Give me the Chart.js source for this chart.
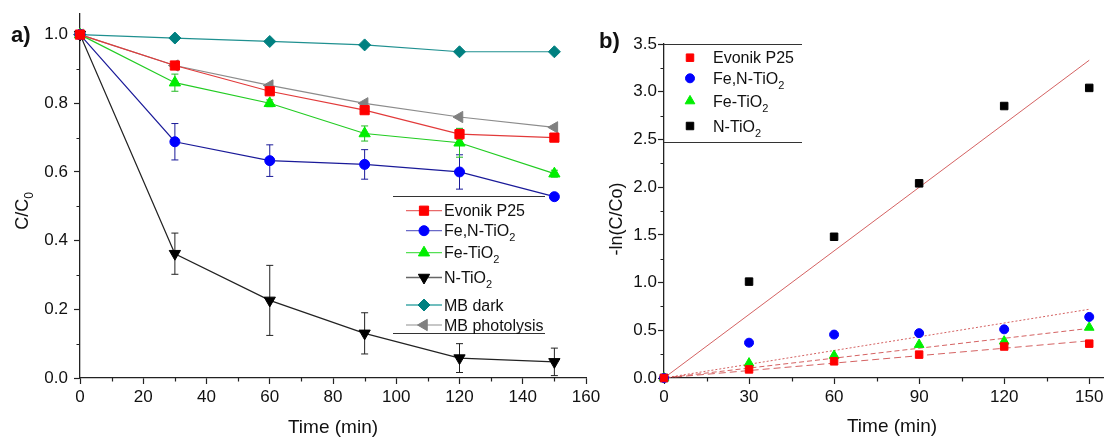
<!DOCTYPE html>
<html><head><meta charset="utf-8">
<script src="https://cdn.jsdelivr.net/npm/chart.js@4"></script>
<style>
html,body{margin:0;padding:0;background:#fff;width:1110px;height:437px;overflow:hidden;}
#ca{position:absolute;left:0;top:0;}
#cb{position:absolute;left:590px;top:0;}
</style></head><body>
<canvas id="ca" width="600" height="437"></canvas>
<canvas id="cb" width="520" height="437"></canvas>
<script>
// ---------- Panel a data ----------
const timeA = [0, 30, 60, 90, 120, 150];
const evonikA = [1.0, 0.91, 0.835, 0.78, 0.71, 0.70];
const feNA = [1.0, 0.688, 0.633, 0.622, 0.60, 0.528];
const feA = [1.0, 0.86, 0.80, 0.712, 0.685, 0.595];
const nA = [1.0, 0.362, 0.226, 0.13, 0.058, 0.047];
const mbDarkA = [1.0, 0.99, 0.98, 0.97, 0.95, 0.95];
const mbPhotoA = [1.0, 0.91, 0.852, 0.80, 0.76, 0.73];
const errEvonikA = [0, 0.005, 0.006, 0.008, 0.015, 0.006];
const errFeNA = [0, 0.053, 0.046, 0.043, 0.05, 0.008];
const errFeA = [0, 0.025, 0.01, 0.022, 0.042, 0.01];
const errNA = [0, 0.06, 0.102, 0.06, 0.042, 0.04];
const labelsA = ['Evonik P25', 'Fe,N-TiO_2', 'Fe-TiO_2', 'N-TiO_2', 'MB dark', 'MB photolysis'];
const xTicksA = [0, 20, 40, 60, 80, 100, 120, 140, 160];
const xMinorA = [10, 30, 50, 70, 90, 110, 130, 150];
const yTicksA = [0, 0.2, 0.4, 0.6, 0.8, 1.0];
const yMinorA = [0.1, 0.3, 0.5, 0.7, 0.9];

// ---------- Panel b data ----------
const timeB = [0, 30, 60, 90, 120, 150];
const evonikB = [0, 0.09, 0.175, 0.245, 0.33, 0.36];
const feNB = [0, 0.37, 0.455, 0.47, 0.51, 0.64];
const feB = [0, 0.155, 0.235, 0.35, 0.385, 0.53];
const nB = [0, 1.01, 1.48, 2.04, 2.85, 3.04];
const fitX = [0, 150];
const fitEvonikB = [0, 0.39];
const fitFeNB = [0, 0.72];
const fitFeB = [0, 0.52];
const fitNB = [0, 3.33];
const labelsB = ['Evonik P25', 'Fe,N-TiO_2', 'Fe-TiO_2', 'N-TiO_2'];
const xTicksB = [0, 30, 60, 90, 120, 150];
const xMinorB = [15, 45, 75, 105, 135];
const yTicksB = [0, 0.5, 1.0, 1.5, 2.0, 2.5, 3.0, 3.5];
const yMinorB = [0.25, 0.75, 1.25, 1.75, 2.25, 2.75, 3.25];

const FONT = "'Liberation Sans', Arial, sans-serif";
function pts(xs, ys) { return xs.map((x, i) => ({x: x, y: ys[i]})); }

function richParts(text) {
  const parts = [];
  for (let i = 0; i < text.length; i++) {
    if (text[i] === '_') { parts.push({t: text[i + 1], sub: true}); i++; }
    else if (parts.length && !parts[parts.length - 1].sub) parts[parts.length - 1].t += text[i];
    else parts.push({t: text[i], sub: false});
  }
  return parts;
}
function drawRich(ctx, text, x, y, size, align, weight) {
  const parts = richParts(text);
  const sub = Math.round(size * 0.68);
  const w8 = weight ? weight + ' ' : '';
  let w = 0;
  parts.forEach(p => { ctx.font = w8 + (p.sub ? sub : size) + 'px ' + FONT; p.w = ctx.measureText(p.t).width; w += p.w; });
  let cx = align === 'center' ? x - w / 2 : (align === 'right' ? x - w : x);
  ctx.textAlign = 'left'; ctx.textBaseline = 'alphabetic';
  parts.forEach(p => {
    ctx.font = w8 + (p.sub ? sub : size) + 'px ' + FONT;
    ctx.fillText(p.t, cx, p.sub ? y + size * 0.3 : y);
    cx += p.w;
  });
}
function marker(ctx, style, rot, r, x, y, color) {
  ctx.save();
  ctx.fillStyle = color; ctx.strokeStyle = color; ctx.lineWidth = 1;
  Chart.helpers.drawPoint(ctx, {pointStyle: style, rotation: rot, radius: r, borderWidth: 1}, x, y);
  ctx.restore();
}

function scaleCfg(axis, ticksArr, min, max, size, fmt, pad) {
  return {
    type: 'linear', min: min, max: max,
    afterBuildTicks: s => { s.ticks = ticksArr.map(v => ({value: v})); },
    afterFit: s => {
      if (axis === 'x') { s.height = size; s.paddingLeft = 0; s.paddingRight = 0; }
      else { s.width = size; s.paddingTop = 0; s.paddingBottom = 0; }
    },
    grid: {display: true, drawOnChartArea: false, drawTicks: true, tickLength: 6, tickColor: '#222', tickWidth: 1.2},
    border: {display: true, color: '#222', width: 1.3},
    ticks: {padding: pad, color: '#111', font: {family: FONT, size: 17}, callback: fmt, maxRotation: 0, autoSkip: false}
  };
}

const minorPlugin = {
  id: 'minorTicks',
  afterDraw(chart, args, opts) {
    const ctx = chart.ctx, xs = chart.scales.x, ys = chart.scales.y;
    ctx.save(); ctx.strokeStyle = '#222'; ctx.lineWidth = 1.2;
    ctx.beginPath();
    opts.x.forEach(v => { const p = Math.round(xs.getPixelForValue(v)) + 0.5; ctx.moveTo(p, xs.top); ctx.lineTo(p, xs.top + 3.5); });
    opts.y.forEach(v => { const p = Math.round(ys.getPixelForValue(v)) + 0.5; ctx.moveTo(ys.right, p); ctx.lineTo(ys.right - 3.5, p); });
    ctx.stroke(); ctx.restore();
  }
};

const errPlugin = {
  id: 'errBars',
  beforeDatasetsDraw(chart) {
    const ctx = chart.ctx, xs = chart.scales.x, ys = chart.scales.y;
    ctx.save(); ctx.lineWidth = 1;
    chart.data.datasets.forEach(ds => {
      if (!ds.errors) return;
      ctx.strokeStyle = ds.errColor;
      ds.data.forEach((p, i) => {
        const e = ds.errors[i]; if (!e) return;
        const x = xs.getPixelForValue(p.x);
        const y1 = ys.getPixelForValue(p.y + e), y2 = ys.getPixelForValue(p.y - e);
        ctx.beginPath();
        ctx.moveTo(x, y1); ctx.lineTo(x, y2);
        ctx.moveTo(x - 3.5, y1); ctx.lineTo(x + 3.5, y1);
        ctx.moveTo(x - 3.5, y2); ctx.lineTo(x + 3.5, y2);
        ctx.stroke();
      });
    });
    ctx.restore();
  }
};

const decorPlugin = {
  id: 'decor',
  afterDraw(chart, args, o) {
    const ctx = chart.ctx;
    ctx.save();
    ctx.fillStyle = '#111';
    drawRich(ctx, o.panel, o.panelX, o.panelY, 22, 'left', 'bold');
    drawRich(ctx, 'Time (min)', o.xTitleX, o.xTitleY, 19, 'center');
    ctx.save(); ctx.translate(o.yTitleX, o.yTitleY); ctx.rotate(-Math.PI / 2);
    drawRich(ctx, o.yTitle, 0, 0, 18, 'center'); ctx.restore();
    ctx.strokeStyle = '#333'; ctx.lineWidth = 1;
    ctx.beginPath();
    o.frame.forEach(f => { ctx.moveTo(f[0], f[2] + 0.5); ctx.lineTo(f[1], f[2] + 0.5); });
    ctx.stroke();
    const dss = chart.data.datasets;
    o.items.forEach((y, i) => {
      const ds = dss[i];
      if (o.lineX) {
        ctx.strokeStyle = ds.legendLine; ctx.lineWidth = 1.3;
        ctx.beginPath(); ctx.moveTo(o.lineX[0], y); ctx.lineTo(o.lineX[1], y); ctx.stroke();
      }
      marker(ctx, ds.pointStyle, ds.pointRotation || 0, ds.pointRadius, o.markerX, y, ds.pointBackgroundColor);
      ctx.fillStyle = '#111';
      drawRich(ctx, o.labels[i], o.textX, y + 16 * 0.36, 16, 'left');
    });
    ctx.restore();
  }
};

function lineDs(label, ys, errs, style, rot, r, mcolor, lcolor, legendLine, ecolor) {
  return {
    label: label, data: pts(timeA, ys), showLine: true, borderColor: lcolor, borderWidth: 1.2,
    pointStyle: style, pointRotation: rot, pointRadius: r, pointBackgroundColor: mcolor, pointBorderColor: mcolor,
    pointBorderWidth: 1, clip: false, errors: errs, errColor: ecolor, legendLine: legendLine, tension: 0
  };
}

new Chart(document.getElementById('ca'), {
  type: 'scatter',
  data: {datasets: [
    lineDs(labelsA[0], evonikA, errEvonikA, 'rect', 0, 6.5, '#ff0000', '#e23a3a', '#e86a6a', '#e03030'),
    lineDs(labelsA[1], feNA, errFeNA, 'circle', 0, 5, '#0000ff', '#1a1a99', '#6a6ac8', '#1a1a99'),
    lineDs(labelsA[2], feA, errFeA, 'triangle', 0, 6.5, '#00ee00', '#22cc22', '#55e055', '#22bb22'),
    lineDs(labelsA[3], nA, errNA, 'triangle', 180, 6.5, '#000000', '#222222', '#666666', '#222222'),
    lineDs(labelsA[4], mbDarkA, null, 'rectRot', 0, 6, '#008080', '#1f9090', '#40a8a8', '#008080'),
    lineDs(labelsA[5], mbPhotoA, null, 'triangle', 270, 6.5, '#808080', '#8c8c8c', '#b4b4b4', '#808080')
  ]},
  options: {
    responsive: false, animation: false, events: [],
    layout: {padding: {left: 0, top: 14, right: 14, bottom: 0}},
    scales: {
      x: scaleCfg('x', xTicksA, 0, 160, 59, v => String(v), 3),
      y: scaleCfg('y', yTicksA, 0, 1.06, 80, v => v.toFixed(1), 6)
    },
    plugins: {
      legend: {display: false}, tooltip: {enabled: false},
      minorTicks: {x: xMinorA, y: yMinorA},
      decor: {
        panel: 'a)', panelX: 11, panelY: 42,
        xTitleX: 333, xTitleY: 433,
        yTitle: 'C/C_0', yTitleX: 28, yTitleY: 211,
        frame: [[393, 545, 196], [393, 545, 333]],
        items: [210.7, 230.7, 252.7, 277.5, 305, 325],
        lineX: [406, 442], markerX: 424, textX: 444, labels: labelsA
      }
    }
  },
  plugins: [errPlugin, minorPlugin, decorPlugin]
});

function ptDs(label, ys, style, r, color) {
  return {label: label, data: pts(timeB, ys), showLine: false, pointStyle: style, pointRadius: r,
    pointBackgroundColor: color, pointBorderColor: color, pointBorderWidth: 1, clip: false};
}
function fitDs(ys, dash) {
  return {data: pts(fitX, ys), showLine: true, pointRadius: 0, borderColor: 'rgba(205,70,70,0.85)',
    borderWidth: 1, borderDash: dash, clip: false};
}

new Chart(document.getElementById('cb'), {
  type: 'scatter',
  data: {datasets: [
    ptDs(labelsB[0], evonikB, 'rect', 5.3, '#ff0000'),
    ptDs(labelsB[1], feNB, 'circle', 4.5, '#0000ff'),
    ptDs(labelsB[2], feB, 'triangle', 5.6, '#00ee00'),
    ptDs(labelsB[3], nB, 'rect', 5.3, '#000000'),
    fitDs(fitEvonikB, [7, 4]),
    fitDs(fitFeNB, [2, 2]),
    fitDs(fitFeB, [5, 3]),
    fitDs(fitNB, [])
  ]},
  options: {
    responsive: false, animation: false, events: [],
    layout: {padding: {left: 0, top: 44, right: 1, bottom: 0}},
    scales: {
      x: scaleCfg('x', xTicksB, 0, 155, 59, v => String(v), 3),
      y: scaleCfg('y', yTicksB, 0, 3.5, 74, v => v.toFixed(1), 1)
    },
    plugins: {
      legend: {display: false}, tooltip: {enabled: false},
      minorTicks: {x: xMinorB, y: yMinorB},
      decor: {
        panel: 'b)', panelX: 9, panelY: 48,
        xTitleX: 302, xTitleY: 432,
        yTitle: '-ln(C/Co)', yTitleX: 32, yTitleY: 219,
        frame: [[74, 212, 44], [74, 212, 142]],
        items: [57.7, 78.3, 101, 126],
        lineX: null, markerX: 100, textX: 123, labels: labelsB
      }
    }
  },
  plugins: [minorPlugin, decorPlugin]
});
</script>
</body></html>
